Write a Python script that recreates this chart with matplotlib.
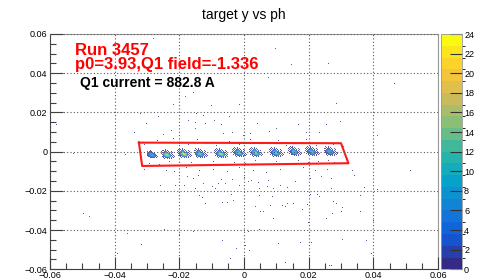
import numpy as np
import matplotlib
matplotlib.use("Agg")
import matplotlib.pyplot as plt
from matplotlib.colors import LinearSegmentedColormap, ListedColormap, BoundaryNorm
from matplotlib.ticker import MultipleLocator, FuncFormatter

plt.rcParams["font.family"] = ["Liberation Sans", "DejaVu Sans"]

# --- data ---
# histogram binning (x: ph, y: target y)
x_range = (-0.06, 0.06)
y_range = (-0.06, 0.06)
n_xbins = 400
n_ybins = 240

# the 11 sieve-hole spots inside the cut
blob_x = [-0.0285, -0.0239, -0.0188, -0.0136, -0.0074, -0.0018, 0.0034, 0.0096, 0.0153, 0.0209, 0.0266]
blob_y = [-0.0016, -0.0015, -0.0014, -0.0012, -0.0011, -0.0009, -0.0007, -0.0006, -0.0004, -0.0003, -0.0002]
blob_peak = [7, 17, 19, 13, 17, 13, 15, 12, 11, 11, 9]

# counts of a typical spot (peak 16), rows top -> bottom, cols left -> right
blob_shape = [
    [0, 0, 1, 0, 0, 1, 0, 0, 0, 0, 0, 0, 0, 0, 0],
    [0, 1, 0, 1, 0, 2, 0, 1, 0, 0, 0, 0, 0, 0, 0],
    [1, 0, 2, 0, 3, 4, 3, 0, 1, 0, 0, 1, 0, 0, 0],
    [0, 1, 0, 4, 6, 8, 7, 5, 0, 2, 0, 0, 1, 0, 0],
    [1, 0, 3, 6, 10, 12, 12, 10, 6, 3, 0, 1, 0, 0, 0],
    [0, 1, 2, 5, 10, 14, 16, 15, 12, 8, 3, 0, 1, 0, 0],
    [0, 0, 2, 3, 7, 11, 14, 15, 13, 10, 6, 2, 0, 1, 0],
    [0, 1, 0, 2, 4, 6, 8, 10, 10, 8, 5, 0, 2, 0, 1],
    [0, 0, 0, 1, 0, 2, 3, 4, 5, 4, 0, 2, 0, 1, 0],
    [0, 0, 0, 0, 1, 0, 0, 1, 0, 1, 0, 1, 0, 0, 0],
]
blob_row0 = 5   # row of the peak
blob_col0 = 6   # column of the peak

# loose single events around the band
halo_x = [-0.0307, -0.0270, -0.0250, -0.0219, -0.0198, -0.0173, -0.0142, -0.0116, -0.0085, -0.0044,
          -0.0013, 0.0018, 0.0049, 0.0080, 0.0106, 0.0131, 0.0162, 0.0193, 0.0224, 0.0255, 0.0276, 0.0307,
          -0.0292, -0.0261, -0.0230, -0.0199, -0.0163, -0.0132, -0.0096, -0.0065, -0.0029, 0.0003,
          0.0034, 0.0070, 0.0101, 0.0132, 0.0168, 0.0199, 0.0230, 0.0261, 0.0281]
halo_y = [0.0035, 0.0055, 0.0028, 0.0062, 0.0040, 0.0031, 0.0058, 0.0036, 0.0026, 0.0049,
          0.0033, 0.0060, 0.0029, 0.0041, 0.0052, 0.0027, 0.0038, 0.0056, 0.0030, 0.0044, 0.0033, 0.0025,
          -0.0060, -0.0068, -0.0052, -0.0074, -0.0058, -0.0066, -0.0050, -0.0070, -0.0056, -0.0062,
          -0.0048, -0.0066, -0.0054, -0.0060, -0.0046, -0.0058, -0.0052, -0.0048, -0.0056]

stray_x = [-0.0497, -0.0478, -0.0363, -0.0316, -0.0391, -0.0244, -0.0182, -0.0157, -0.0198, -0.0067,
           -0.0023, -0.0040, 0.0003, 0.0016, 0.0013, 0.0046, 0.0106, 0.0127, 0.0175, 0.0207,
           0.0264, 0.0272, 0.0304, 0.0379, 0.0395, -0.0136, -0.0129, -0.0119, -0.0069, -0.0054,
           -0.0031, -0.0038, 0.0035, 0.0047, 0.0053, 0.0062, 0.0082, 0.0089, 0.0093, 0.0119,
           0.0127, 0.0132, 0.0155, 0.0181, 0.0196, 0.0225, 0.0233, 0.0251, 0.0278, 0.0287,
           0.0303, 0.0302, 0.0274, 0.0256, 0.0361, 0.0361, 0.0400, -0.0177, -0.0157, -0.0141,
           -0.0115, -0.0098, -0.0088, -0.0081, -0.0072, -0.0059, -0.0036, -0.0038, 0.0001, 0.0014,
           0.0021, 0.0044, 0.0047, 0.0072, 0.0077, 0.0093, 0.0111, 0.0134, 0.0147, 0.0160,
           0.0206, 0.0221, 0.0237, 0.0271, 0.0272, 0.0295, 0.0341, 0.0373, 0.0413, 0.0531,
           -0.0260, -0.0213, -0.0185, -0.0148, -0.0124, -0.0012, 0.0204, 0.0200,
           -0.0280, 0.0096, 0.0144, 0.0261, 0.0077, 0.0147, 0.0287, 0.0467, -0.0182, -0.0157,
           -0.0219, -0.0100, -0.0146, -0.0014, -0.0320, -0.0581, -0.0303, -0.0265, -0.0172, -0.0148,
           -0.0124, -0.0118, -0.0093, -0.0072, -0.0043, -0.0035, 0.0019, 0.0041, 0.0080, 0.0101,
           0.0168, 0.0194, 0.0233, 0.0256, 0.0297, 0.0412, -0.0249, -0.0224, -0.0337, -0.0148,
           -0.0064, -0.0002,
           -0.0307, -0.0240, -0.0214, -0.0178, -0.0136, -0.0095, -0.0054, -0.0013, 0.0028, 0.0070,
           0.0111, 0.0147, 0.0183, 0.0219, 0.0260, 0.0333, 0.0513, 0.0529, -0.0526, -0.0368]
stray_y = [-0.0320, -0.0335, -0.0416, -0.0478, -0.0524, -0.0396, -0.0452, -0.0405, -0.0422, -0.0457,
           -0.0495, -0.0546, -0.0483, -0.0508, -0.0408, -0.0398, -0.0474, -0.0569, -0.0467, -0.0466,
           -0.0583, -0.0580, -0.0450, -0.0457, -0.0524, -0.0229, -0.0238, -0.0269, -0.0263, -0.0263,
           -0.0253, -0.0221, -0.0280, -0.0229, -0.0309, -0.0309, -0.0279, -0.0235, -0.0343, -0.0279,
           -0.0284, -0.0269, -0.0269, -0.0297, -0.0272, -0.0221, -0.0233, -0.0258, -0.0258, -0.0269,
           -0.0289, -0.0309, -0.0316, -0.0340, -0.0229, -0.0306, -0.0354, -0.0127, -0.0136, -0.0122,
           -0.0153, -0.0182, -0.0190, -0.0165, -0.0143, -0.0168, -0.0141, -0.0153, -0.0131, -0.0160,
           -0.0150, -0.0161, -0.0192, -0.0182, -0.0146, -0.0192, -0.0178, -0.0187, -0.0160, -0.0160,
           -0.0139, -0.0151, -0.0127, -0.0139, -0.0194, -0.0151, -0.0124, -0.0187, -0.0197, -0.0151,
           -0.0177, -0.0177, -0.0175, -0.0190, -0.0167, -0.0179, -0.0221, -0.0362,
           0.0575, 0.0524, 0.0439, 0.0442, 0.0374, 0.0286, 0.0243, 0.0342, 0.0277, 0.0297,
           0.0240, 0.0235, 0.0192, 0.0240, 0.0192, 0.0133, 0.0138, 0.0175, 0.0158, 0.0144,
           0.0184, 0.0138, 0.0155, 0.0133, 0.0175, 0.0093, 0.0090, 0.0138, 0.0097, 0.0114,
           0.0133, 0.0093, 0.0093, 0.0133, 0.0150, 0.0080, 0.0082, 0.0104, 0.0093, 0.0114,
           0.0090, 0.0080,
           -0.0090, -0.0096, -0.0101, -0.0084, -0.0096, -0.0090, -0.0103, -0.0084, -0.0096, -0.0107,
           -0.0090, -0.0101, -0.0084, -0.0096, -0.0090, -0.0096, -0.0096, -0.0153, -0.0011, -0.0016]

# graphical cut drawn on top
cut_x = [-0.0325, 0.0300, 0.0323, -0.0315, -0.0325]
cut_y = [0.0046, 0.0043, -0.0059, -0.0073, 0.0046]

# --- build the histogram ---
xedges = np.linspace(x_range[0], x_range[1], n_xbins + 1)
yedges = np.linspace(y_range[0], y_range[1], n_ybins + 1)

H, _, _ = np.histogram2d(stray_x + halo_x, stray_y + halo_y, bins=[xedges, yedges])
H = H.T

shape = np.array(blob_shape, dtype=float)
nr, nc = shape.shape
for bx, by, peak in zip(blob_x, blob_y, blob_peak):
    ix = np.searchsorted(xedges, bx) - 1
    iy = np.searchsorted(yedges, by) - 1
    block = np.round(shape * peak / 16.0)
    for r in range(nr):
        for c in range(nc):
            H[iy + blob_row0 - r, ix - blob_col0 + c] += block[r, c]

Hm = np.ma.masked_where(H <= 0, H)

# ROOT kBird palette with 20 contour levels
stops = [0.0, 0.125, 0.25, 0.375, 0.5, 0.625, 0.75, 0.875, 1.0]
red = [0.2082, 0.0592, 0.0780, 0.0232, 0.1802, 0.5301, 0.8186, 0.9956, 0.9764]
green = [0.1664, 0.3599, 0.5041, 0.6419, 0.7178, 0.7492, 0.7328, 0.7862, 0.9832]
blue = [0.5293, 0.8684, 0.8385, 0.7914, 0.6425, 0.4662, 0.3499, 0.1968, 0.0539]
bird = LinearSegmentedColormap.from_list("bird", list(zip(stops, zip(red, green, blue))))
levels = np.linspace(0, 24, 21)
cmap = ListedColormap(bird(np.linspace(0, 1, 20)))
cmap.set_bad((1, 1, 1, 0))
norm = BoundaryNorm(levels, 20)

# --- figure ---
fig = plt.figure(figsize=(4.83, 2.80), dpi=100)
ax = fig.add_axes([50 / 483, 1 - 269.3 / 280, 388 / 483, 235.3 / 280])
img = ax.imshow(Hm, cmap=cmap, norm=norm, origin="lower", aspect="auto",
                extent=(x_range[0], x_range[1], y_range[0], y_range[1]),
                interpolation="nearest", alpha=0.8)
ax.plot(cut_x, cut_y, color="#ff1a1a", linewidth=1.5)

ax.set_xlim(x_range)
ax.set_ylim(y_range)
ax.xaxis.set_major_locator(MultipleLocator(0.02))
ax.yaxis.set_major_locator(MultipleLocator(0.02))
ax.xaxis.set_minor_locator(MultipleLocator(0.005))
ax.yaxis.set_minor_locator(MultipleLocator(0.005))


def fmt(v, pos):
    if abs(v) < 1e-9:
        return "0"
    return f"{v:.2f}".replace("-", "\u2212")


ax.xaxis.set_major_formatter(FuncFormatter(fmt))
ax.yaxis.set_major_formatter(FuncFormatter(fmt))
ax.tick_params(which="both", direction="in", top=False, right=False, labelsize=6.5, color="0.25")
ax.tick_params(which="major", length=9, width=0.8)
ax.tick_params(which="minor", length=4.5, width=0.8)
ax.tick_params(axis="x", pad=1.5)
ax.tick_params(axis="y", pad=2)
ax.grid(which="major", linestyle=(0, (1, 2)), color="0.35", linewidth=0.8)
ax.set_axisbelow(False)
for side in ["top", "right"]:
    ax.spines[side].set_color("0.6")
for side in ["left", "bottom"]:
    ax.spines[side].set_color("0.25")
for sp in ax.spines.values():
    sp.set_linewidth(0.8)

cax = fig.add_axes([440.7 / 483, 1 - 269.3 / 280, 21.3 / 483, 235.3 / 280])
cb = fig.colorbar(img, cax=cax, ticks=range(0, 25, 2), alpha=1.0)
cb.solids.set_alpha(1.0)
cb.outline.set_edgecolor("0.6")
cb.outline.set_linewidth(0.6)
cax.tick_params(direction="in", length=9, width=0.8, color="0.2", labelsize=6.5, pad=1.5)

fig.text(244 / 483, 1 - 18.5 / 280, "target y vs ph", ha="center", va="baseline", fontsize=10)
fig.text(75 / 483, 1 - 55 / 280, "Run 3457", color="#ff0000", fontweight="bold",
         fontsize=12, va="baseline")
fig.text(75 / 483, 1 - 69.5 / 280, "p0=3.93,Q1 field=-1.336", color="#ff0000", fontweight="bold",
         fontsize=12, va="baseline")
fig.text(80 / 483, 1 - 87 / 280, "Q1 current = 882.8 A", color="black", fontweight="bold",
         fontsize=10, va="baseline")

fig.savefig("out.png", dpi=100)
